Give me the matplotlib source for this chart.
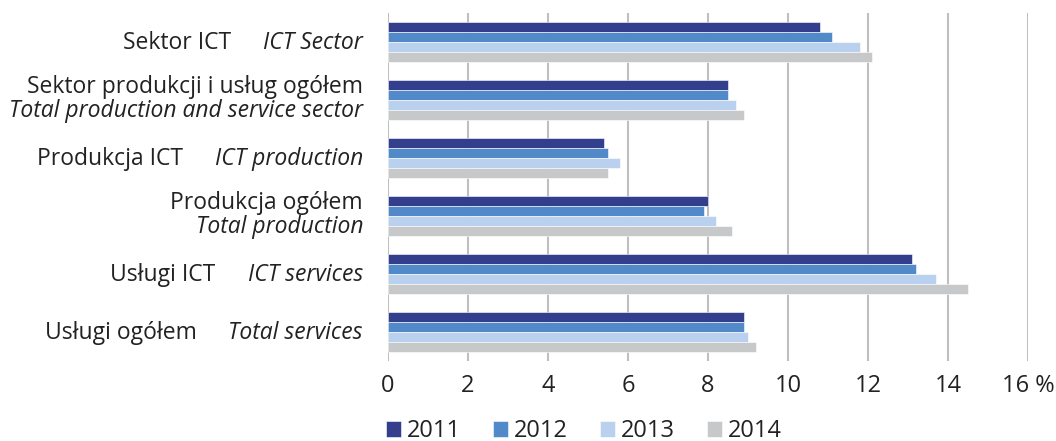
import matplotlib.pyplot as plt
import numpy as np

# Categories (Polish / English)
labels_pl = ["Sektor ICT", "Sektor produkcji i usług ogółem", "Produkcja ICT",
             "Produkcja ogółem", "Usługi ICT", "Usługi ogółem"]
labels_en = ["ICT Sector", "Total production and service sector", "ICT production",
             "Total production", "ICT services", "Total services"]
two_line = [False, True, False, True, False, False]

years = ["2011", "2012", "2013", "2014"]
values_2011 = [10.8, 8.5, 5.4, 8.0, 13.1, 8.9]
values_2012 = [11.1, 8.5, 5.5, 7.9, 13.2, 8.9]
values_2013 = [11.8, 8.7, 5.8, 8.2, 13.7, 9.0]
values_2014 = [12.1, 8.9, 5.5, 8.6, 14.5, 9.2]
series = [values_2011, values_2012, values_2013, values_2014]

xticks = [0, 2, 4, 6, 8, 10, 12, 14, 16]
xtick_labels = ["0", "2", "4", "6", "8", "10", "12", "14", "16 %"]

colors = ["#333f8c", "#5289c8", "#b9d1ee", "#c7c8ca"]
txt = "#222222"

plt.rcParams['font.family'] = ['Open Sans', 'DejaVu Sans']

fig = plt.figure(figsize=(10.56, 4.41), dpi=100)
ax = fig.add_axes([388 / 1056, 1 - 361 / 441, 640 / 1056, 348 / 441])

y = np.arange(len(labels_pl))
h = 10 / 58
for i, (vals, col, yr) in enumerate(zip(series, colors, years)):
    ax.barh(y + (i - 1.5) * h, vals, height=h, color=col, edgecolor="white",
            linewidth=0.4, label=yr)

ax.set_xlim(0, 16)
ax.set_ylim(len(labels_pl) - 0.5, -0.5)
ax.set_xticks(xticks)
ax.set_xticklabels(xtick_labels, fontsize=17, color=txt)
ax.set_yticks([])
ax.tick_params(axis="x", length=0, pad=9)
ax.grid(axis="x", color="#bfbfbf", linewidth=1.5)
ax.set_axisbelow(True)
for s in ax.spines.values():
    s.set_visible(False)

# category labels left of axis
fs = 16.5
fig.canvas.draw()
renderer = fig.canvas.get_renderer()
for k in range(len(labels_pl)):
    if two_line[k]:
        ax.annotate(labels_pl[k], xy=(0, y[k]), xycoords=("axes fraction", "data"),
                    xytext=(-25, 7), textcoords="offset pixels",
                    ha="right", va="baseline", fontsize=fs, color=txt)
        ax.annotate(labels_en[k], xy=(0, y[k]), xycoords=("axes fraction", "data"),
                    xytext=(-25, -17), textcoords="offset pixels",
                    ha="right", va="baseline", fontsize=fs, style="italic", color=txt)
    else:
        t = ax.annotate(labels_en[k], xy=(0, y[k]), xycoords=("axes fraction", "data"),
                        xytext=(-25, -7), textcoords="offset pixels",
                        ha="right", va="baseline", fontsize=fs, style="italic", color=txt)
        w = t.get_window_extent(renderer).width
        ax.annotate(labels_pl[k], xy=(0, y[k]), xycoords=("axes fraction", "data"),
                    xytext=(-25 - w - 32, -7), textcoords="offset pixels",
                    ha="right", va="baseline", fontsize=fs, color=txt)

fig.legend(loc="center left", bbox_to_anchor=(386 / 1056, 1 - 431 / 441), ncol=4,
           frameon=False, fontsize=17, handlelength=0.64, handleheight=0.64,
           handletextpad=0.25, columnspacing=1.35, borderpad=0, borderaxespad=0,
           labelcolor=txt)

fig.savefig("out.png", dpi=100)
